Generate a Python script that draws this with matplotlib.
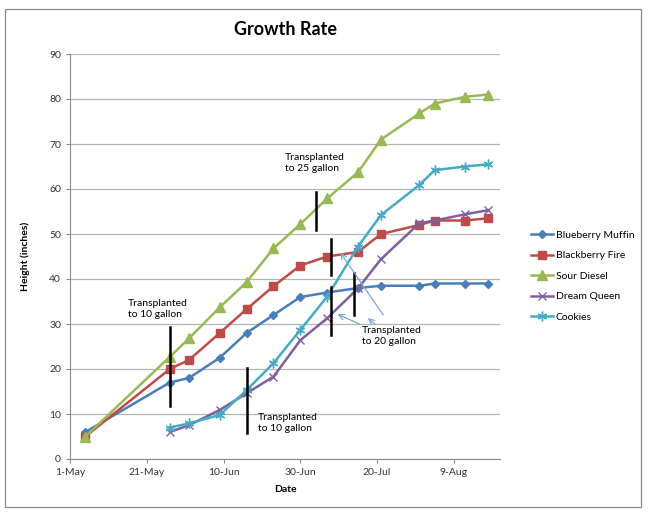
import numpy as np
import matplotlib
matplotlib.use("Agg")
import matplotlib.pyplot as plt
import matplotlib.dates as mdates
from matplotlib.patches import Rectangle

plt.rcParams['font.family'] = ['Lato', 'DejaVu Sans']

# measurement dates (same year throughout)
dates = np.array(['2012-05-05', '2012-05-27', '2012-06-01', '2012-06-09', '2012-06-16',
                  '2012-06-23', '2012-06-30', '2012-07-07', '2012-07-15', '2012-07-21',
                  '2012-07-31', '2012-08-04', '2012-08-12', '2012-08-18'], dtype='datetime64[D]')
late_dates = dates[1:]  # Dream Queen & Cookies started later

blueberry_muffin = [6, 17, 18, 22.5, 28, 32, 36, 37, 38, 38.5, 38.5, 39, 39, 39]
blackberry_fire = [5, 20, 22, 28, 33.3, 38.4, 43, 45, 46, 50, 52, 53, 53, 53.5]
sour_diesel = [5, 22.7, 26.8, 33.7, 39.3, 46.8, 52.2, 57.9, 63.7, 71, 76.8, 79, 80.5, 81]
dream_queen = [6, 7.5, 10.9, 14.6, 18.3, 26.4, 31.3, 37.9, 44.4, 52.4, 53, 54.4, 55.3]
cookies = [7, 7.9, 9.8, 15.3, 21.3, 28.7, 36.1, 47.2, 54.2, 60.9, 64.2, 65, 65.5]

tick_dates = np.arange(np.datetime64('2012-05-01'), np.datetime64('2012-08-22'), 20)

# transplant markers: (date, y bottom, y top)
marks = [('2012-05-27', 11.8, 29.3), ('2012-06-16', 5.7, 20.2), ('2012-07-04', 50.9, 59.3),
         ('2012-07-08', 41, 49), ('2012-07-08', 27.6, 38.3), ('2012-07-14', 32, 41.4)]
notes = [('2012-05-16', 33.3, 'Transplanted\nto 10 gallon'),
         ('2012-06-19', 8, 'Transplanted\nto 10 gallon'),
         ('2012-06-26', 65.8, 'Transplanted\nto 25 gallon'),
         ('2012-07-16', 27.3, 'Transplanted\nto 20 gallon')]
# arrows: (tail date, tail y, head date, head y)
arrows = [('2012-07-22', 31.5, '2012-07-10', 46.4),
          ('2012-07-16', 29.8, '2012-07-09', 32.4),
          ('2012-07-20', 29.6, '2012-07-17', 31.7)]

fig = plt.figure(figsize=(6.48, 5.15), dpi=100)
fig.patches.append(Rectangle((5 / 648, 8 / 515), 636 / 648, 498 / 515, transform=fig.transFigure,
                             fill=False, edgecolor='#8c8c8c', linewidth=0.9))
ax = fig.add_axes([70 / 648, 56 / 515, 430 / 648, 405 / 515])

ax.plot(dates, blueberry_muffin, color='#4A7EBB', lw=1.8, marker='D', ms=4.5, label='Blueberry Muffin')
ax.plot(dates, blackberry_fire, color='#BE4B48', lw=1.8, marker='s', ms=6, label='Blackberry Fire')
ax.plot(dates, sour_diesel, color='#98B954', lw=1.8, marker='^', ms=6.5, label='Sour Diesel')
ax.plot(late_dates, dream_queen, color='#7D60A0', lw=1.8, marker='x', ms=6, mew=1, label='Dream Queen')
ax.plot(late_dates, cookies, color='#46AAC5', lw=1.8, marker=(6, 2, 0), ms=7, mew=1, label='Cookies')

for d, y0, y1 in marks:
    ax.plot([np.datetime64(d), np.datetime64(d)], [y0, y1], color='black', lw=1.8, zorder=5)
for d, y, txt in notes:
    ax.text(np.datetime64(d), y, txt, fontsize=7.5, va='center', ha='left', linespacing=1.25, zorder=6)
for d0, y0, d1, y1 in arrows:
    ax.annotate('', xy=(np.datetime64(d1), y1), xytext=(np.datetime64(d0), y0),
                arrowprops=dict(arrowstyle='->', color='#7fa6d8', lw=0.9), zorder=6)

ax.set_xlim(np.datetime64('2012-05-01'), np.datetime64('2012-08-21'))
ax.set_ylim(0, 90)
ax.set_yticks(range(0, 91, 10))
ax.set_xticks(tick_dates)
ax.xaxis.set_major_formatter(mdates.DateFormatter('%-d-%b'))
ax.tick_params(labelsize=7.5, colors='#333333', length=3, color='#8c8c8c')
ax.grid(axis='y', color='#b5b5b5', lw=0.9)
ax.set_axisbelow(True)
for s in ['top', 'right']:
    ax.spines[s].set_visible(False)
for s in ['left', 'bottom']:
    ax.spines[s].set_color('#8c8c8c')

ax.set_title('Growth Rate', fontsize=13, fontweight='bold', pad=14)
ax.set_xlabel('Date', fontsize=7.5, fontweight='bold', labelpad=6)
ax.set_ylabel('Height (inches)', fontsize=7.5, fontweight='bold', labelpad=14)

fig.legend(loc='upper left', bbox_to_anchor=(522 / 648, 1 - 221 / 515), frameon=False,
           fontsize=7.5, handlelength=2.1, labelspacing=1.08, handletextpad=0.25)

fig.savefig('out.png', dpi=100)
